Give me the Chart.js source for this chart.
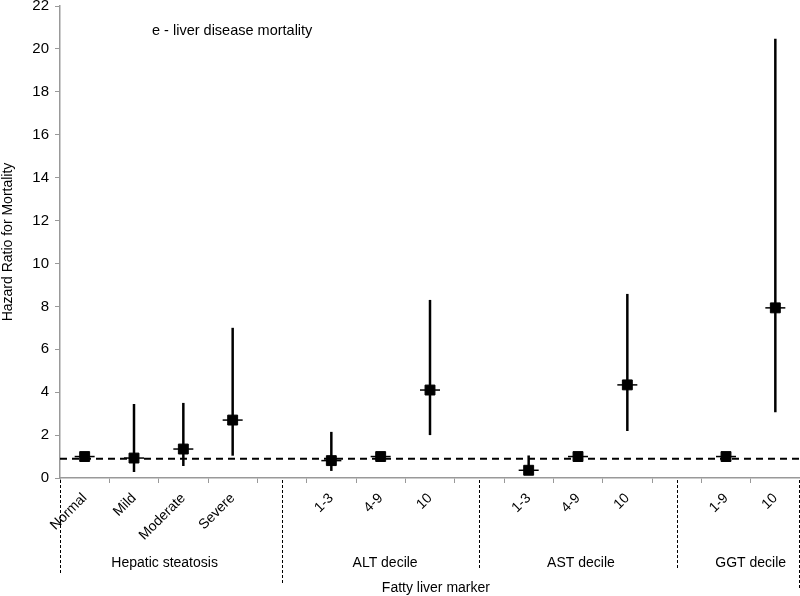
<!DOCTYPE html>
<html>
<head>
<meta charset="utf-8">
<script src="https://cdn.jsdelivr.net/npm/chart.js@4"></script>
<style>
  html, body { margin: 0; padding: 0; background: #fff; }
  #wrap { width: 800px; height: 596px; }
</style>
</head>
<body>
<div id="wrap"><canvas id="hrChart"></canvas></div>
<script>
// categories (empty slots separate the marker groups)
const categories = ['Normal', 'Mild', 'Moderate', 'Severe', '', '1-3', '4-9', '10', '', '1-3', '4-9', '10', '', '1-9', '10'];
const hazardRatio = [1.0, 0.93, 1.35, 2.7, null, 0.81, 1.0, 4.1, null, 0.36, 1.0, 4.34, null, 1.0, 7.93];
const lowerCI = [1.0, 0.28, 0.56, 1.04, null, 0.33, 1.0, 2.0, null, 0.15, 1.0, 2.19, null, 1.0, 3.07];
const upperCI = [1.0, 3.45, 3.5, 7.0, null, 2.15, 1.0, 8.3, null, 1.05, 1.0, 8.58, null, 1.0, 20.47];
const referenceLine = 0.9;
const yTicks = [0, 2, 4, 6, 8, 10, 12, 14, 16, 18, 20, 22];

// group labels under the axis: text + category position
const groupNames = ['Hepatic steatosis', 'ALT decile', 'AST decile', 'GGT decile'];
const groupCenters = [1.62, 6.09, 10.06, 13.5];
const groupBoundaries = [-0.5, 4, 8, 12, 14.5];

const FONT = '"Liberation Sans", Arial, sans-serif';

// error bars, caps and the dashed reference line
const errorBarPlugin = {
  id: 'errorBars',
  beforeDatasetsDraw(chart) {
    const ctx = chart.ctx;
    const x = chart.scales.x, y = chart.scales.y;
    const area = chart.chartArea;
    ctx.save();
    // dashed line
    ctx.strokeStyle = '#000';
    ctx.lineWidth = 2;
    ctx.setLineDash([7, 5]);
    ctx.beginPath();
    ctx.moveTo(area.left, y.getPixelForValue(referenceLine));
    ctx.lineTo(area.right, y.getPixelForValue(referenceLine));
    ctx.stroke();
    ctx.setLineDash([]);

    hazardRatio.forEach((v, i) => {
      if (v === null) return;
      const px = x.getPixelForValue(i);
      // vertical CI line
      ctx.strokeStyle = '#000';
      ctx.lineWidth = 2.5;
      ctx.beginPath();
      ctx.moveTo(px, y.getPixelForValue(lowerCI[i]));
      ctx.lineTo(px, y.getPixelForValue(upperCI[i]));
      ctx.stroke();
      // horizontal cap through the point
      const py = y.getPixelForValue(v);
      ctx.lineWidth = 1.5;
      ctx.beginPath();
      ctx.moveTo(px - 10, py);
      ctx.lineTo(px + 10, py);
      ctx.stroke();
    });
    ctx.restore();
  },
  afterDraw(chart) {
    const ctx = chart.ctx;
    const x = chart.scales.x;
    const area = chart.chartArea;
    const bottoms = [575, 585, 570, 570, 590];
    ctx.save();
    ctx.strokeStyle = '#000';
    ctx.lineWidth = 1;
    ctx.setLineDash([3, 2]);
    groupBoundaries.forEach((b, i) => {
      let px = x.getPixelForValue(b);
      if (i === groupBoundaries.length - 1) px = area.right - 1;
      px = Math.round(px) + 0.5;
      ctx.beginPath();
      ctx.moveTo(px, area.bottom + 2);
      ctx.lineTo(px, bottoms[i]);
      ctx.stroke();
    });
    ctx.setLineDash([]);

    ctx.fillStyle = '#000';
    ctx.font = '14px ' + FONT;
    ctx.textAlign = 'center';
    ctx.textBaseline = 'middle';
    groupNames.forEach((name, i) => {
      ctx.fillText(name, x.getPixelForValue(groupCenters[i]), 563);
    });
    ctx.fillText('Fatty liver marker', x.getPixelForValue(7.12), 588);

    // panel label
    ctx.textAlign = 'left';
    ctx.font = '14.5px ' + FONT;
    ctx.fillText('e - liver disease mortality', 152, 31);
    ctx.restore();
  }
};

new Chart(document.getElementById('hrChart').getContext('2d'), {
  type: 'line',
  data: {
    labels: categories,
    datasets: [{
      label: 'Hazard ratio',
      data: hazardRatio,
      showLine: false,
      pointStyle: 'rect',
      pointRadius: 7,
      pointBackgroundColor: '#000',
      pointBorderColor: '#000',
      pointBorderWidth: 1
    }]
  },
  options: {
    responsive: true,
    maintainAspectRatio: false,
    animation: false,
    layout: { autoPadding: false, padding: { top: 6, right: 0, left: 0, bottom: 0 } },
    plugins: {
      legend: { display: false },
      tooltip: { enabled: false }
    },
    scales: {
      x: {
        type: 'category',
        offset: true,
        grid: {
          offset: true,
          drawOnChartArea: false,
          drawTicks: true,
          tickLength: 5,
          color: '#999'
        },
        border: { color: '#999', width: 1.5 },
        ticks: {
          autoSkip: false,
          minRotation: 45,
          maxRotation: 45,
          padding: 7,
          color: '#000',
          font: { family: FONT, size: 14 }
        },
        afterFit(scale) {
          scale.height = 118;
          scale.paddingLeft = 0;
          scale.paddingRight = 0;
        }
      },
      y: {
        min: 0,
        max: 22,
        afterBuildTicks(scale) { scale.ticks = yTicks.map(v => ({ value: v })); },
        grid: {
          drawOnChartArea: false,
          drawTicks: true,
          tickLength: 5,
          color: '#999'
        },
        border: { color: '#999', width: 1.5 },
        ticks: {
          padding: 6,
          color: '#000',
          font: { family: FONT, size: 15 }
        },
        title: {
          display: true,
          text: 'Hazard Ratio for Mortality',
          color: '#000',
          padding: 0,
          font: { family: FONT, size: 14 }
        },
        afterFit(scale) {
          scale.width = 60;
          scale.paddingTop = 0;
          scale.paddingBottom = 0;
        }
      }
    }
  },
  plugins: [errorBarPlugin]
});
</script>
</body>
</html>
